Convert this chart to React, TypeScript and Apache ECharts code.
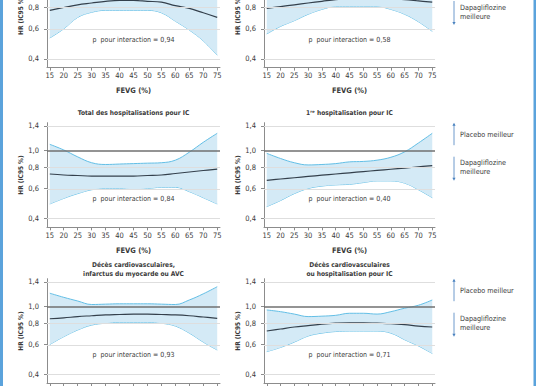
import React, { useEffect, useRef } from 'react';
import * as echarts from 'echarts';

// ---------- data ----------
const fevg = [15, 20, 25, 30, 35, 40, 45, 50, 55, 60, 65, 70, 75];
const yTicks = [0.4, 0.6, 0.8, 1.0, 1.4];

const tlMean = [0.77, 0.8, 0.83, 0.85, 0.87, 0.88, 0.88, 0.87, 0.86, 0.82, 0.79, 0.745, 0.7];
const tlLower = [0.53, 0.6, 0.7, 0.75, 0.77, 0.77, 0.77, 0.77, 0.745, 0.665, 0.59, 0.51, 0.42];
const tlUpper = [1.15, 1.06, 1.0, 0.97, 0.98, 1.0, 1.0, 0.99, 0.99, 1.01, 1.05, 1.1, 1.18];

const trMean = [0.79, 0.81, 0.83, 0.85, 0.87, 0.89, 0.9, 0.91, 0.91, 0.9, 0.89, 0.875, 0.86];
const trLower = [0.56, 0.62, 0.67, 0.73, 0.78, 0.81, 0.81, 0.81, 0.81, 0.78, 0.73, 0.66, 0.58];
const trUpper = [1.12, 1.06, 1.03, 1.0, 0.98, 0.98, 1.0, 1.02, 1.03, 1.04, 1.08, 1.15, 1.25];

const mlMean = [0.73, 0.72, 0.715, 0.71, 0.71, 0.71, 0.71, 0.715, 0.72, 0.735, 0.75, 0.765, 0.78];
const mlUpper = [1.09, 1.01, 0.92, 0.85, 0.83, 0.835, 0.84, 0.845, 0.85, 0.88, 0.98, 1.12, 1.265];
const mlLower = [0.487, 0.525, 0.56, 0.59, 0.6, 0.6, 0.595, 0.6, 0.61, 0.61, 0.575, 0.53, 0.487];

const mrMean = [0.67, 0.682, 0.694, 0.706, 0.718, 0.73, 0.742, 0.754, 0.766, 0.778, 0.79, 0.804, 0.818];
const mrUpper = [0.965, 0.9, 0.85, 0.825, 0.83, 0.84, 0.86, 0.865, 0.88, 0.915, 0.985, 1.11, 1.265];
const mrLower = [0.47, 0.51, 0.56, 0.6, 0.62, 0.63, 0.635, 0.65, 0.665, 0.665, 0.645, 0.59, 0.53];

const blMean = [0.85, 0.86, 0.875, 0.885, 0.895, 0.9, 0.905, 0.905, 0.9, 0.895, 0.885, 0.87, 0.855];
const blUpper = [1.2, 1.135, 1.08, 1.03, 1.035, 1.04, 1.04, 1.04, 1.035, 1.03, 1.095, 1.19, 1.31];
const blLower = [0.6, 0.667, 0.73, 0.78, 0.8, 0.81, 0.81, 0.81, 0.8, 0.77, 0.7, 0.62, 0.557];

const brMean = [0.72, 0.74, 0.76, 0.775, 0.79, 0.8, 0.805, 0.805, 0.8, 0.795, 0.785, 0.77, 0.76];
const brUpper = [0.957, 0.935, 0.905, 0.875, 0.88, 0.89, 0.915, 0.915, 0.905, 0.935, 0.98, 1.02, 1.095];
const brLower = [0.545, 0.577, 0.62, 0.673, 0.7, 0.715, 0.72, 0.72, 0.72, 0.7, 0.64, 0.588, 0.532];

const pValues = ['0,94', '0,58', '0,84', '0,40', '0,93', '0,71'];
const panelTitles: string[][] = [
  [],
  [],
  ['Total des hospitalisations pour IC'],
  ['1ʳᵉ hospitalisation pour IC'],
  ['Décès cardiovasculaires,', 'infarctus du myocarde ou AVC'],
  ['Décès cardiovasculaires', 'ou hospitalisation pour IC'],
];
const xAxisName = 'FEVG (%)';
const yAxisName = 'HR (IC95 %)';
const placeboText = 'Placebo meilleur';
const dapaText = ['Dapagliflozine', 'meilleure'];

const panels = [
  { mean: tlMean, lower: tlLower, upper: tlUpper },
  { mean: trMean, lower: trLower, upper: trUpper },
  { mean: mlMean, lower: mlLower, upper: mlUpper },
  { mean: mrMean, lower: mrLower, upper: mrUpper },
  { mean: blMean, lower: blLower, upper: blUpper },
  { mean: brMean, lower: brLower, upper: brUpper },
];

// ---------- layout ----------
const FONT = '"Liberation Sans Narrow", "DejaVu Sans Condensed", "Roboto Condensed", sans-serif';
const OFF = 40; // the chart canvas starts 40px above the visible page
const colLeft = [47, 264];
const colWidth = [173, 171];
const rowOne = [-9, 150.7, 306.7].map((v) => v + OFF); // pixel y of HR = 1.0 per row
const annotRow = [-5, 150.7, 306.7].map((v) => v + OFF);
const PX = 74; // px per ln unit
const Y_MIN = Math.log(0.355);
const Y_MAX = Math.log(1.46);
const toY = (hr: number) => Math.log(hr) - Y_MIN;

const EDGE = '#63bfe6';
const FILL = '#d4eaf6';
const MEAN = '#34404c';
const REF = '#707070';
const GRID = '#dedede';
const AXIS = '#8c8c8c';
const TEXT = '#3a3a3a';
const ARROW = '#4a82bf';

function buildOption() {
  const grids: any[] = [];
  const xAxes: any[] = [];
  const yAxes: any[] = [];
  const series: any[] = [];
  const graphic: any[] = [];
  const tickVals = yTicks.map(toY);

  panels.forEach((p, i) => {
    const col = i % 2;
    const row = Math.floor(i / 2);
    const y1 = rowOne[row];
    const top = y1 - Y_MAX * PX;
    const height = (Y_MAX - Y_MIN) * PX;
    grids.push({ left: colLeft[col], top, width: colWidth[col], height, outerBoundsMode: 'none', containLabel: false });
    xAxes.push({
      type: 'value',
      gridIndex: i,
      min: 14,
      max: 76,
      name: xAxisName,
      nameLocation: 'middle',
      nameGap: 19,
      nameTextStyle: { fontFamily: FONT, fontWeight: 'bold', fontSize: 7.5, color: TEXT },
      axisLine: { show: true, onZero: false, lineStyle: { color: AXIS, width: 1 } },
      axisTick: { show: true, length: 3, customValues: fevg, lineStyle: { color: AXIS } },
      axisLabel: { customValues: fevg, fontFamily: FONT, fontSize: 7.5, color: TEXT, margin: 4 },
      splitLine: { show: false },
    });
    yAxes.push({
      type: 'value',
      gridIndex: i,
      min: 0,
      max: Y_MAX - Y_MIN,
      name: yAxisName,
      nameLocation: 'middle',
      nameGap: 21,
      nameRotate: 90,
      nameTextStyle: { fontFamily: FONT, fontWeight: 'bold', fontSize: 6.5, color: TEXT },
      axisLine: { show: true, onZero: false, lineStyle: { color: AXIS, width: 1 } },
      axisTick: { show: true, length: 3, customValues: tickVals, lineStyle: { color: AXIS } },
      axisLabel: {
        customValues: tickVals,
        formatter: (v: number) => Math.exp(v + Y_MIN).toFixed(1).replace('.', ','),
        fontFamily: FONT,
        fontSize: 7.5,
        color: TEXT,
        margin: 8,
      },
      splitLine: { show: false },
    });
    const stack = 'band' + i;
    // data rows are [value, fevg] so that the stacked dimension is the value
    series.push({
      type: 'line',
      xAxisIndex: i,
      yAxisIndex: i,
      stack,
      encode: { x: 1, y: 0 },
      smooth: 0.4,
      symbol: 'none',
      silent: true,
      lineStyle: { color: EDGE, width: 1 },
      data: fevg.map((x, j) => [toY(p.lower[j]), x]),
      markLine: {
        silent: true,
        symbol: ['none', 'none'],
        label: { show: false },
        lineStyle: { color: GRID, width: 1, type: 'solid' },
        data: yTicks.filter((v) => v !== 1).map((v) => ({ yAxis: toY(v) })),
      },
      z: 2,
    });
    series.push({
      type: 'line',
      xAxisIndex: i,
      yAxisIndex: i,
      stack,
      encode: { x: 1, y: 0 },
      smooth: 0.4,
      symbol: 'none',
      silent: true,
      lineStyle: { color: EDGE, width: 1 },
      areaStyle: { color: FILL, opacity: 1 },
      data: fevg.map((x, j) => [toY(p.upper[j]) - toY(p.lower[j]), x]),
      z: 3,
    });
    series.push({
      type: 'line',
      xAxisIndex: i,
      yAxisIndex: i,
      smooth: 0.4,
      symbol: 'none',
      silent: true,
      lineStyle: { color: MEAN, width: 1.2 },
      data: fevg.map((x, j) => [x, toY(p.mean[j])]),
      markLine: {
        silent: true,
        symbol: ['none', 'none'],
        label: { show: false },
        lineStyle: { color: REF, width: 1.5, type: 'solid' },
        data: [{ yAxis: toY(1) }],
      },
      z: 4,
    });

    const cx = colLeft[col] + colWidth[col] / 2;
    graphic.push({
      type: 'text',
      x: cx,
      y: y1 + 48.5,
      style: {
        text: 'p  pour interaction = ' + pValues[i],
        fontFamily: FONT,
        fontSize: 7,
        fill: TEXT,
        align: 'center',
        verticalAlign: 'middle',
      },
      z: 10,
    });
    const t = panelTitles[i];
    t.forEach((line, k) => {
      const yy = t.length === 1 ? y1 - 37.5 : y1 - 42 + k * 9;
      graphic.push({
        type: 'text',
        x: cx,
        y: yy,
        style: {
          text: line,
          fontFamily: FONT,
          fontWeight: 'bold',
          fontSize: 6.6,
          fill: TEXT,
          align: 'center',
          verticalAlign: 'middle',
        },
      });
    });
  });

  annotRow.forEach((a) => {
    const ax = 454;
    graphic.push({ type: 'line', shape: { x1: ax, y1: a - 26, x2: ax, y2: a - 5.5 }, style: { stroke: ARROW, lineWidth: 0.8 } });
    graphic.push({ type: 'polygon', shape: { points: [[ax - 1.6, a - 25], [ax + 1.6, a - 25], [ax, a - 28]] }, style: { fill: ARROW } });
    graphic.push({ type: 'line', shape: { x1: ax, y1: a + 6, x2: ax, y2: a + 27.5 }, style: { stroke: ARROW, lineWidth: 0.8 } });
    graphic.push({ type: 'polygon', shape: { points: [[ax - 1.6, a + 27], [ax + 1.6, a + 27], [ax, a + 30]] }, style: { fill: ARROW } });
    graphic.push({
      type: 'text', x: 460, y: a - 16,
      style: { text: placeboText, fontFamily: FONT, fontSize: 7.2, fill: TEXT, align: 'left', verticalAlign: 'middle' },
    });
    dapaText.forEach((s, k) => {
      graphic.push({
        type: 'text', x: 460, y: a + 12.2 + k * 8.8,
        style: { text: s, fontFamily: FONT, fontSize: 7.2, fill: TEXT, align: 'left', verticalAlign: 'middle' },
      });
    });
  });

  graphic.push({ type: 'rect', shape: { x: 0, y: 0, width: 3, height: 386 + OFF }, style: { fill: '#5ba3dc' } });
  graphic.push({ type: 'rect', shape: { x: 533.5, y: 0, width: 2.5, height: 386 + OFF }, style: { fill: '#5ba3dc' } });

  return {
    animation: false,
    backgroundColor: '#ffffff',
    textStyle: { fontFamily: FONT },
    grid: grids,
    xAxis: xAxes,
    yAxis: yAxes,
    series,
    graphic,
  };
}

export default function App() {
  const ref = useRef<HTMLDivElement>(null);
  useEffect(() => {
    if (!ref.current) return;
    const chart = echarts.init(ref.current, undefined, { renderer: 'svg' });
    chart.setOption(buildOption() as any);
    return () => chart.dispose();
  }, []);
  return (
    <div
      ref={ref}
      style={{ position: 'absolute', left: 0, top: -OFF, width: 536, height: 386 + OFF, background: '#fff' }}
    />
  );
}
